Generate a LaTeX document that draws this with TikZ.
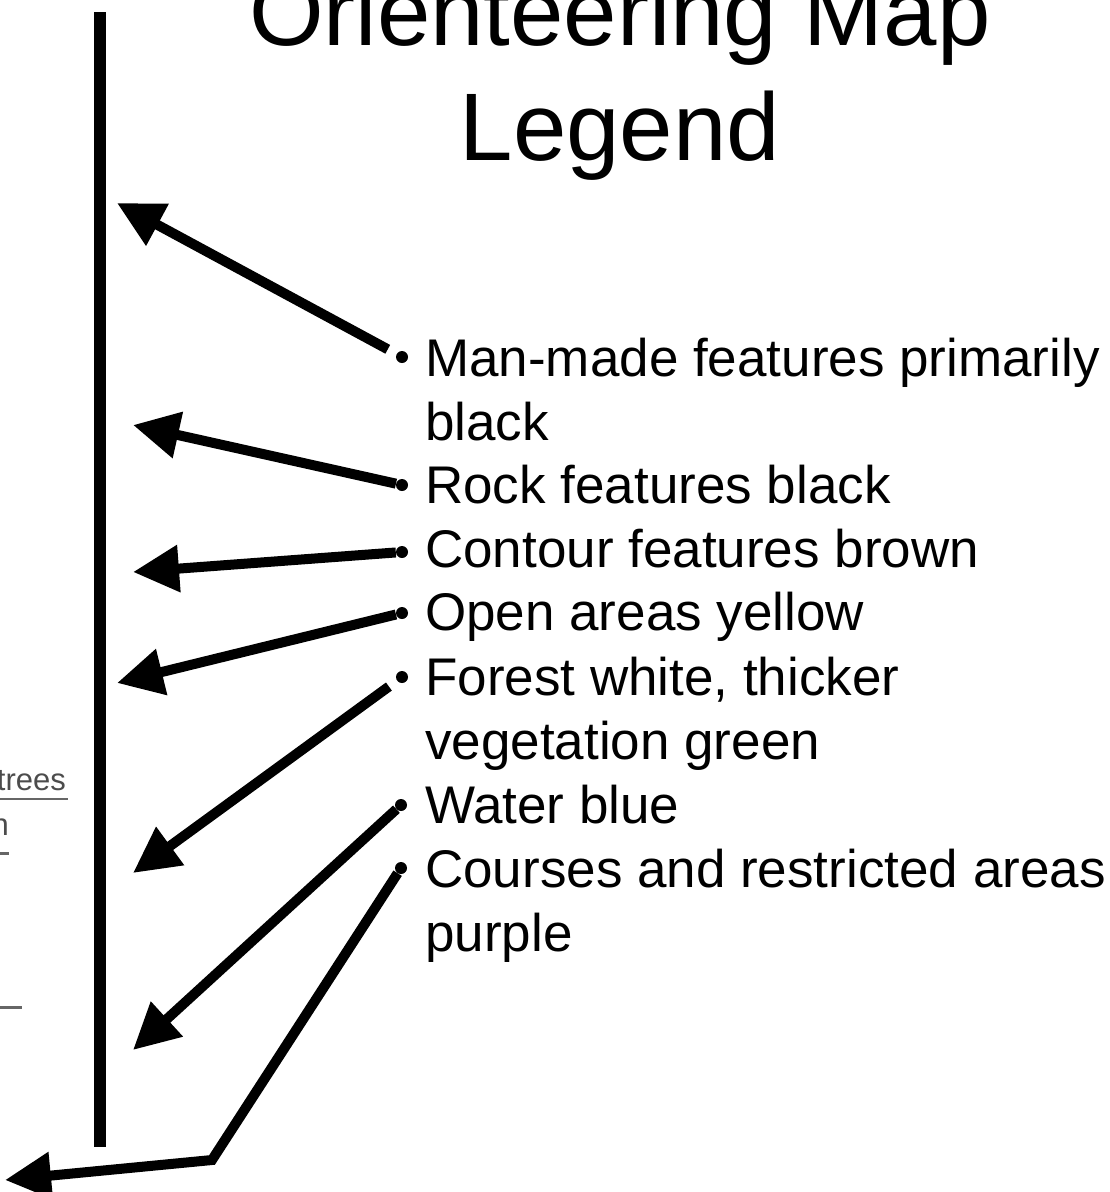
\documentclass[tikz,border=0pt]{standalone}
\usepackage{fontspec}
\setmainfont{Liberation Sans}
\usepackage{tikz}
\usetikzlibrary{arrows.meta}

\begin{document}
\begin{tikzpicture}[x=1pt, y=-1pt,
  title/.style={align=center, font=\fontsize{96}{115}\selectfont, inner sep=0pt, anchor=base},
  item/.style={align=left, font=\fontsize{53}{63.5}\selectfont, inner sep=0pt, anchor=base west},
  dot/.style={circle, fill=black, inner sep=0pt, minimum size=12pt},
  pointer/.style={line width=10pt, line join=miter, -{Triangle[length=46pt,width=45pt]}},
  faint/.style={text=black!70, font=\fontsize{31}{34}\selectfont, inner sep=0pt, anchor=base east}
]
  \useasboundingbox (0,0) rectangle (1110,1192);

  % Title (base = last line)
  \node[title] (title) at (620,160) {Orienteering Map\\Legend};

  % Map edge (cut off on the left)
  \node[faint] (trees) at (66,790) {trees};
  \draw[black!60, line width=2.5pt] (0,799) -- (68,799);
  \node[faint] (frag) at (9,835) {n};
  \draw[black!60, line width=3pt] (0,853) -- (9,853);
  \draw[black!60, line width=3pt] (0,1007) -- (22,1007);

  % Vertical bar
  \coordinate (bartop) at (100,12);
  \coordinate (barbot) at (100,1147);
  \draw[line width=12pt] (bartop) -- (barbot);

  % Legend items (base = last line)
  \node[item] (t1) at (425,440) {Man-made features primarily\\black};
  \node[item] (t2) at (425,503) {Rock features black};
  \node[item] (t3) at (425,567) {Contour features brown};
  \node[item] (t4) at (425,630) {Open areas yellow};
  \node[item] (t5) at (425,759) {Forest white, thicker\\vegetation green};
  \node[item] (t6) at (425,823) {Water blue};
  \node[item] (t7) at (425,951) {Courses and restricted areas\\purple};

  % Bullets
  \node[dot] (b1) at (402,357) {};
  \node[dot] (b2) at (402,485) {};
  \node[dot] (b3) at (402,552) {};
  \node[dot] (b4) at (402,613) {};
  \node[dot] (b5) at (402,677) {};
  \node[dot] (b6) at (401,805) {};
  \node[dot] (b7) at (401,868) {};

  % Arrow heads
  \coordinate (h1) at (117,203);
  \coordinate (h2) at (133,425);
  \coordinate (h3) at (133,572);
  \coordinate (h4) at (117,683);
  \coordinate (h5) at (133,873);
  \coordinate (h6) at (133,1050);
  \coordinate (k7) at (212,1160);
  \coordinate (h7) at (5,1180);

  % Pointers
  \draw[pointer, shorten <=10pt] (b1) -- (h1);
  \draw[pointer] (b2) -- (h2);
  \draw[pointer] (b3) -- (h3);
  \draw[pointer] (b4) -- (h4);
  \draw[pointer, shorten <=10pt] (b5) -- (h5);
  \draw[pointer] (b6) -- (h6);
  \draw[pointer] (b7) -- (k7) -- (h7);
\end{tikzpicture}
\end{document}
